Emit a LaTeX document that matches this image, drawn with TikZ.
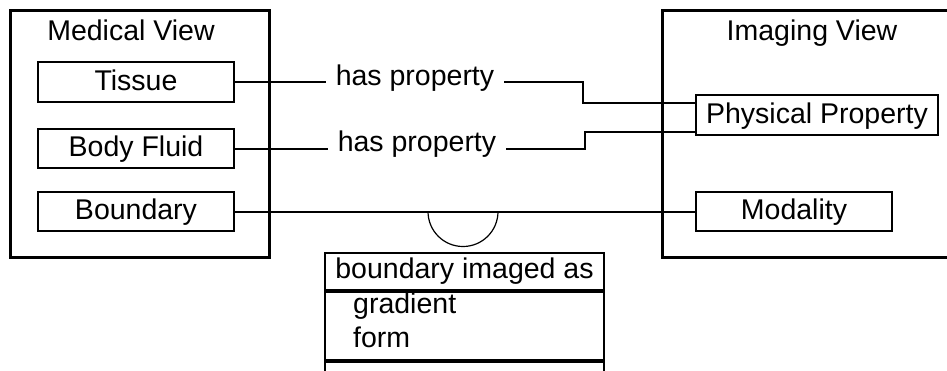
\documentclass[tikz,border=0pt]{standalone}
\usepackage{fontspec}
\setmainfont{Liberation Sans}
\begin{document}
\begin{tikzpicture}[x=1bp,y=-1bp,
  every node/.style={font=\fontsize{28.5bp}{34bp}\selectfont},
  viewbox/.style={draw, line width=3bp},
  itembox/.style={draw, line width=2bp, inner sep=0pt, text height=21bp, text depth=5bp},
  rel/.style={inner ysep=0pt, inner xsep=10bp, text height=18bp, text depth=12bp},
  conn/.style={line width=2bp},
  thin arc/.style={line width=1.2bp}]
\useasboundingbox (0,0) rectangle (947,370);
\begin{scope}
\clip (0,0) rectangle (947,370);
% view frames
\draw[viewbox] (10,10) rectangle (269,257);
\draw[viewbox] (662,10) rectangle (980,257);
\node[anchor=base] (mv) at (131,40) {Medical View};
\node[anchor=base] (iv) at (812,40) {Imaging View};
% items
\node[itembox, minimum width=196bp, minimum height=40bp] (tissue) at (136,82) {Tissue};
\node[itembox, minimum width=196bp, minimum height=39bp] (fluid) at (136,148.5) {Body Fluid};
\node[itembox, minimum width=196bp, minimum height=39bp] (bound) at (136,211.5) {Boundary};
\node[itembox, minimum width=242bp, minimum height=40bp] (phys) at (817,115) {Physical Property};
\node[itembox, minimum width=196bp, minimum height=39bp] (modal) at (794,211.5) {Modality};
% relations
\node[rel] (has1) at (415,82) {has property};
\node[rel] (has2) at (417,148.5) {has property};
\coordinate (k1) at (583,82);
\coordinate (k2) at (585,148.5);
\draw[conn] (tissue.east) -- (has1.west);
\draw[conn] (has1.east) -- (k1) |- (phys.west |- 0,103);
\draw[conn] (fluid.east) -- (has2.west);
\draw[conn] (has2.east) -- (k2) |- (phys.west |- 0,132);
\draw[conn] (bound.east) -- (modal.west);
\draw[thin arc] (428,211.5) arc[start angle=180, end angle=0, radius=35];
% association class
\node[draw, line width=2bp, anchor=north west, minimum width=279bp, minimum height=37bp, inner sep=0pt] (ctitle) at (324,252) {boundary imaged as};
\node[draw, line width=2bp, anchor=north west, minimum width=279bp, minimum height=68bp, inner sep=0pt] (cattr) at (ctitle.south west) {};
\node[draw, line width=2bp, anchor=north west, minimum width=279bp, minimum height=40bp, inner sep=0pt] (cops) at (cattr.south west) {};
\node[anchor=base west, inner sep=0pt] (a1) at (353,313) {gradient};
\node[anchor=base west, inner sep=0pt] (a2) at (353,347) {form};
\end{scope}
\end{tikzpicture}
\end{document}
